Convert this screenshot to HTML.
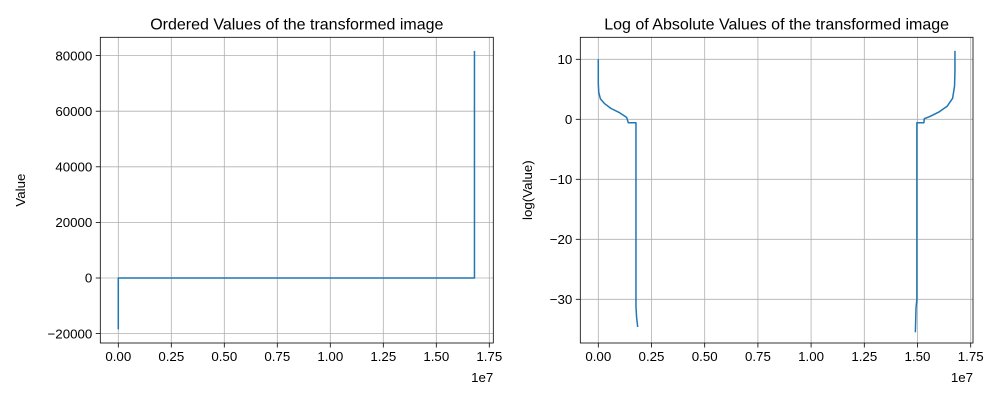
<!DOCTYPE html>
<html><head><meta charset="utf-8"><style>
html,body{margin:0;padding:0;background:#fff}
svg{display:block;font-family:"Liberation Sans","DejaVu Sans",sans-serif}
</style></head><body>
<svg id="chart" width="1001" height="400" xmlns="http://www.w3.org/2000/svg"></svg>
<script>
// Left chart data (x in units of 1e6)
const leftX = [0, 0, 16.8, 16.8];
const leftY = [-18500, 0, 0, 81700];
const leftXTicks = [0, 0.25, 0.5, 0.75, 1.0, 1.25, 1.5, 1.75];
const leftXTickLabels = ["0.00","0.25","0.50","0.75","1.00","1.25","1.50","1.75"];
const leftYTicks = [-20000, 0, 20000, 40000, 60000, 80000];
const leftYTickLabels = ["\u221220000","0","20000","40000","60000","80000"];
// Right chart data: log values
const rightLeftBranchX = [0, 0, 0.02, 0.1, 0.3, 0.6, 1.0, 1.33, 1.41, 1.77, 1.77, 1.8, 1.85];
const rightLeftBranchY = [10, 6, 4.5, 3.4, 2.6, 1.8, 1.1, 0.33, -0.57, -0.57, -31.2, -33, -34.6];
const rightRightBranchX = [14.9, 14.93, 14.97, 14.97, 15.3, 15.32, 15.6, 16.0, 16.4, 16.65, 16.74, 16.76, 16.76];
const rightRightBranchY = [-35.5, -31.5, -30, -0.57, -0.57, 0.1, 0.5, 1.2, 2.2, 3.5, 5.5, 8, 11.4];
const rightXTicks = [0, 0.25, 0.5, 0.75, 1.0, 1.25, 1.5, 1.75];
const rightXTickLabels = ["0.00","0.25","0.50","0.75","1.00","1.25","1.50","1.75"];
const rightYTicks = [-30, -20, -10, 0, 10];
const rightYTickLabels = ["\u221230","\u221220","\u221210","0","10"];

const NS = "http://www.w3.org/2000/svg";
const svg = document.getElementById("chart");
function mk(tag, attrs, parent, text){
  const e = document.createElementNS(NS, tag);
  for (const k in attrs) e.setAttribute(k, attrs[k]);
  if (text !== undefined) e.textContent = text;
  (parent||svg).appendChild(e);
  return e;
}
function drawAxes(cfg){
  const g = mk("g", {});
  
  
  const sx = v => cfg.x0 + (v - cfg.xmin) / (cfg.xmax - cfg.xmin) * (cfg.x1 - cfg.x0);
  const sy = v => cfg.y1 - (v - cfg.ymin) / (cfg.ymax - cfg.ymin) * (cfg.y1 - cfg.y0);
  // grid
  cfg.xt.forEach((t,i) => {
    const x = sx(t*1e7);
    const l = mk("line", {x1:x, x2:x, y1:cfg.y0, y2:cfg.y1, stroke:"#b0b0b0", "stroke-width":0.8}, g);
    
    
    mk("line", {x1:x, x2:x, y1:cfg.y1, y2:cfg.y1+4.5, stroke:"#000", "stroke-width":0.8}, g);
    const tx = mk("text", {x:x, y:cfg.y1+18, "font-size":"13.3", "text-anchor":"middle", fill:"#000"}, g, cfg.xl[i]);
    
    
  });
  cfg.yt.forEach((t,i) => {
    const y = sy(t);
    const l = mk("line", {x1:cfg.x0, x2:cfg.x1, y1:y, y2:y, stroke:"#b0b0b0", "stroke-width":0.8}, g);
    
    
    mk("line", {x1:cfg.x0-4.5, x2:cfg.x0, y1:y, y2:y, stroke:"#000", "stroke-width":0.8}, g);
    const ty = mk("text", {x:cfg.x0-8, y:y+4.7, "font-size":"13.3", "text-anchor":"end", fill:"#000"}, g, cfg.yl[i]);
    
    
  });
  // series
  cfg.series.forEach(s => {
    const pts = s.x.map((v,i) => sx(v*1e6).toFixed(2)+","+sy(s.y[i]).toFixed(2)).join(" ");
    const p = mk("polyline", {points:pts, fill:"none", stroke:"#1f77b4", "stroke-width":1.5, "stroke-linejoin":"round"}, g);
    
    
  });
  // frame
  const f = mk("rect", {x:cfg.x0, y:cfg.y0, width:cfg.x1-cfg.x0, height:cfg.y1-cfg.y0, fill:"none", stroke:"#000", "stroke-width":0.8}, g);
  
  
  const ti = mk("text", {x:(cfg.x0+cfg.x1)/2, y:cfg.y0-8, "font-size":"16", "text-anchor":"middle", fill:"#000"}, g, cfg.title);
  
  
  const yl = mk("text", {x:0, y:0, "font-size":"13.3", "text-anchor":"middle", fill:"#000", transform:"translate("+cfg.ylx+","+((cfg.y0+cfg.y1)/2)+") rotate(-90)"}, g, cfg.ylabel);
  
  
  const ex = mk("text", {x:cfg.x1, y:cfg.y1+39, "font-size":"13.3", "text-anchor":"end", fill:"#000"}, g, "1e7");
  
  
}
drawAxes({name:"left-chart", x0:100.3, x1:493.3, y0:37.3, y1:343,
  xmin:-(118.3-100.3)/21.2*1e6, xmax:(493.3-118.3)/21.2*1e6,
  ymin:-(343-278)/55.6*20000, ymax:(278-37.3)/55.6*20000,
  xt:leftXTicks, xl:leftXTickLabels, yt:leftYTicks, yl:leftYTickLabels,
  series:[{name:"ordered-values-line", x:leftX, y:leftY}],
  title:"Ordered Values of the transformed image", ylabel:"Value", ylx:25});
drawAxes({name:"right-chart", x0:580.3, x1:973, y0:37.3, y1:343,
  xmin:-(598.3-580.3)/21.28*1e6, xmax:(973-598.3)/21.28*1e6,
  ymin:-(343-119.3)/6, ymax:(119.3-37.3)/6,
  xt:rightXTicks, xl:rightXTickLabels, yt:rightYTicks, yl:rightYTickLabels,
  series:[{name:"log-negative-branch", x:rightLeftBranchX, y:rightLeftBranchY},
          {name:"log-positive-branch", x:rightRightBranchX, y:rightRightBranchY}],
  title:"Log of Absolute Values of the transformed image", ylabel:"log(Value)", ylx:532});
</script>
</body></html>
